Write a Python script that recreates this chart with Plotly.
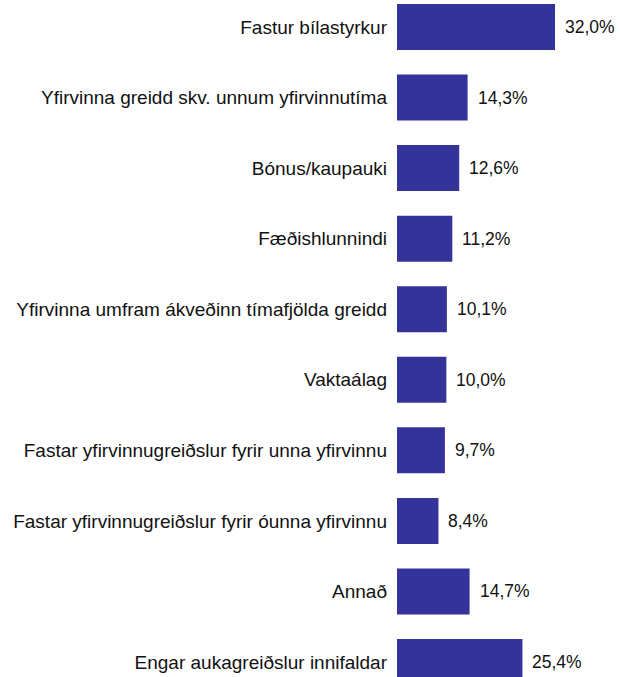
import plotly.graph_objects as go

# Categories (top to bottom) and their shares in percent
categories = [
    "Fastur bílastyrkur",
    "Yfirvinna greidd skv. unnum yfirvinnutíma",
    "Bónus/kaupauki",
    "Fæðishlunnindi",
    "Yfirvinna umfram ákveðinn tímafjölda greidd",
    "Vaktaálag",
    "Fastar yfirvinnugreiðslur fyrir unna yfirvinnu",
    "Fastar yfirvinnugreiðslur fyrir óunna yfirvinnu",
    "Annað",
    "Engar aukagreiðslur innifaldar",
]
values = [32.0, 14.3, 12.6, 11.2, 10.1, 10.0, 9.7, 8.4, 14.7, 25.4]
value_labels = [f"{v:.1f}%".replace(".", ",") for v in values]

FONT = "Liberation Sans, Arial, sans-serif"
LABEL_SIZE = 19
VALUE_SIZE = 17.5
BAR_COLOR = "#333399"

fig = go.Figure(
    go.Bar(
        x=values,
        y=categories,
        orientation="h",
        marker=dict(color=BAR_COLOR, line=dict(width=0)),
        width=0.652,
        hoverinfo="skip",
    )
)

# Value labels to the right of each bar
for cat, v, lbl in zip(categories, values, value_labels):
    fig.add_annotation(
        x=v, y=cat, text=lbl, showarrow=False,
        xanchor="left", yanchor="middle", xshift=8,
        font=dict(family=FONT, size=VALUE_SIZE, color="#111111"),
    )

fig.update_layout(
    width=620, height=677,
    margin=dict(l=397, r=0, t=0, b=0),
    plot_bgcolor="white", paper_bgcolor="white",
    showlegend=False,
    xaxis=dict(range=[0, 45.16], visible=False, fixedrange=True),
    yaxis=dict(
        type="category",
        categoryorder="array", categoryarray=categories,
        range=[9.2126, -0.3827],
        showline=False, showgrid=False, zeroline=False,
        ticks="", ticklabelstandoff=9,
        tickfont=dict(family=FONT, size=LABEL_SIZE, color="#111111"),
        fixedrange=True,
    ),
)

fig.write_html("out.html")
